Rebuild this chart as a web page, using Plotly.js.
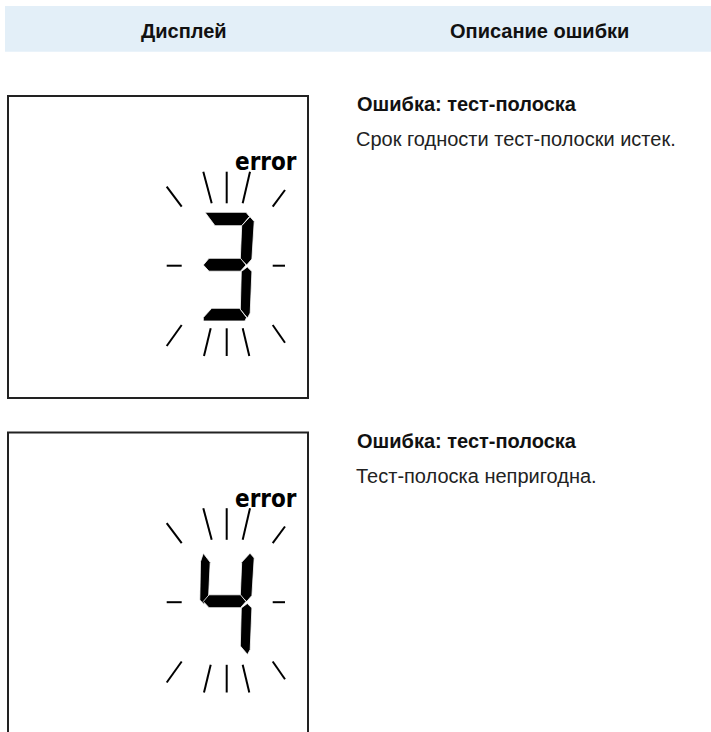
<!DOCTYPE html>
<html>
<head>
<meta charset="utf-8">
<script src="https://cdn.plot.ly/plotly-3.0.1.min.js"></script>
<style>
html,body{margin:0;padding:0;background:#fff;}
#chart{width:711px;height:732px;}
</style>
</head>
<body>
<div id="chart"></div>
<script>
// ---- data ----
const columnHeaders = ['Дисплей', 'Описание ошибки'];
const errorDigits = ['3', '4'];
const errorTitles = ['Ошибка: тест-полоска', 'Ошибка: тест-полоска'];
const errorDescriptions = ['Срок годности тест-полоски истек.', 'Тест-полоска непригодна.'];
const displayWord = 'error';

// seven-segment encoding (which segments are lit for each digit)
const SEGMENT_MAP = {
  '0': 'abcdef', '1': 'bc', '2': 'abdeg', '3': 'abcdg', '4': 'bcfg',
  '5': 'acdfg', '6': 'acdefg', '7': 'abc', '8': 'abcdefg', '9': 'abcdfg'
};

// ---- geometry (styles / layout, not data) ----
const SEG_SHAPES = {
  a: [[2,0.3],[43,0.3],[46.5,4.5],[38.7,13.7],[12,13.7]],
  b: [[47,4.7],[51.2,9.5],[48.9,47],[43.7,53],[37.3,47],[38.7,13.7]],
  c: [[44.3,55],[48.9,59.5],[47.2,101],[44.5,106],[37.3,97.5],[38.3,59.5]],
  d: [[8.7,96.3],[36.5,96.3],[43.5,105.5],[42,109],[0.3,109],[0.3,105.5]],
  e: [[1,57],[5.5,61.5],[4.5,98],[0.3,104.5],[-4.5,101],[-3.5,61.5]],
  f: [[0.3,4.8],[7.2,13.8],[5.5,49.8],[1,55.8],[-3.2,51.5],[-2.5,13.2]],
  g: [[0.3,53],[6,46.3],[37.5,46.3],[43,53],[37.5,59.2],[6,59.2]]
};
const RAYS = [
  [[0.3,-40.3],[8.7,-8.7]], [[23.7,-40.3],[23.7,-8.7]], [[47,-40.3],[39.7,-8.7]],
  [[-36.3,-25.3],[-21.3,-5.3]], [[82,-22],[69.7,-5.3]],
  [[-36.3,53.7],[-21.3,53.7]], [[69.7,53.7],[82,53.7]],
  [[-21.3,113],[-36.3,134]], [[69.7,113],[82,130.7]],
  [[7.7,116.3],[1,144]], [[23.7,116.3],[23.7,144]], [[39.7,116.3],[46.3,144]]
];
const W = 711, H = 732;
const rowTops = [96, 432.5];
const digitX = 203;
const TEXT_FONT = '"Liberation Sans", Arial, sans-serif';

const traces = [];
const shapes = [];
const annotations = [];

// header band
shapes.push({type:'rect', xref:'x', yref:'y', x0:5, x1:711, y0:6, y1:51.7,
  fillcolor:'#e3eff8', line:{width:0}, layer:'below'});
const headerX = [184, 539];
columnHeaders.forEach((h, i) => {
  annotations.push({xref:'x', yref:'y', x:headerX[i], y:31, text:'<b>'+h+'</b>',
    showarrow:false, xanchor:'center', yanchor:'middle',
    font:{family:TEXT_FONT, size:20, color:'#111'}});
});

errorDigits.forEach((dg, i) => {
  const top = rowTops[i];
  const ox = digitX, oy = top + 116;
  // display frame
  shapes.push({type:'rect', xref:'x', yref:'y', x0:8, x1:308, y0:top, y1:top+302,
    line:{color:'#222', width:2}, fillcolor:'rgba(0,0,0,0)'});
  // segments
  SEGMENT_MAP[dg].split('').forEach(s => {
    const pts = SEG_SHAPES[s];
    traces.push({type:'scatter', mode:'lines', fill:'toself',
      x: pts.map(p => ox + p[0]).concat([ox + pts[0][0]]),
      y: pts.map(p => oy + p[1]).concat([oy + pts[0][1]]),
      fillcolor:'#000', line:{color:'#fff', width:0.8}, hoverinfo:'skip', showlegend:false});
  });
  // blinking rays
  const rx = [], ry = [];
  RAYS.forEach(r => { rx.push(ox + r[0][0], ox + r[1][0], null); ry.push(oy + r[0][1], oy + r[1][1], null); });
  traces.push({type:'scatter', mode:'lines', x:rx, y:ry, line:{color:'#000', width:2},
    hoverinfo:'skip', showlegend:false});
  // "error" word
  annotations.push({xref:'x', yref:'y', x:299, y:top+66, text:'<b>'+displayWord+'</b>',
    showarrow:false, xanchor:'right', yanchor:'middle',
    font:{family:'"DejaVu Sans Condensed", "DejaVu Sans", sans-serif', size:24, color:'#000'}});
  // description column
  annotations.push({xref:'x', yref:'y', x:355, y:top+8, text:'<b>'+errorTitles[i]+'</b>',
    showarrow:false, xanchor:'left', yanchor:'middle',
    font:{family:TEXT_FONT, size:20, color:'#111'}});
  annotations.push({xref:'x', yref:'y', x:354, y:top+43, text:errorDescriptions[i],
    showarrow:false, xanchor:'left', yanchor:'middle',
    font:{family:TEXT_FONT, size:20, color:'#222'}});
});

const layout = {
  width: W, height: H,
  margin:{l:0, r:0, t:0, b:0, pad:0},
  paper_bgcolor:'#fff', plot_bgcolor:'#fff',
  xaxis:{range:[0, W], visible:false, fixedrange:true},
  yaxis:{range:[H, 0], visible:false, fixedrange:true},
  shapes: shapes,
  annotations: annotations,
  showlegend:false
};
Plotly.newPlot('chart', traces, layout, {displayModeBar:false, staticPlot:true});
</script>
</body>
</html>
